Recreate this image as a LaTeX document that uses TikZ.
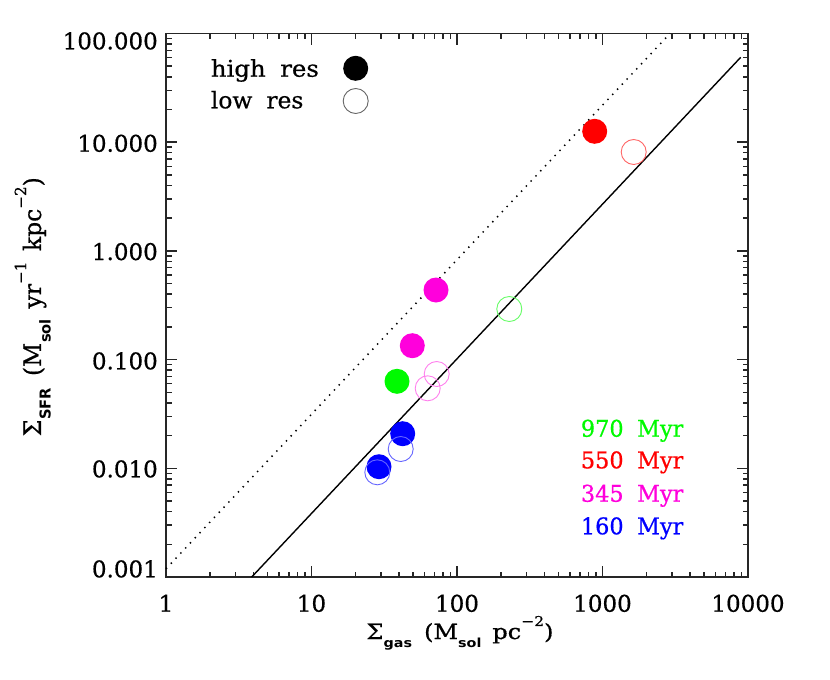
\documentclass[tikz,border=0pt]{standalone}
\usepackage{fontspec}
\usepackage{graphicx}
\setmainfont{DejaVu Serif}[FakeBold=0.6]
\setsansfont{DejaVu Sans}
\definecolor{mgn}{RGB}{255,0,220}
\definecolor{grn}{RGB}{0,250,0}
\definecolor{blu}{RGB}{0,0,255}
\definecolor{rd}{RGB}{255,0,0}
\newcommand{\sbx}[2]{\raisebox{-0.4em}{\fontsize{#1}{#1}\selectfont\sffamily\bfseries #2}}
\newcommand{\spx}[2]{\raisebox{0.62em}{\fontsize{#1}{#1}\selectfont #2}}
\newcommand{\fitw}[2]{\resizebox{#1}{\height}{#2}}
\begin{document}
\begin{tikzpicture}[x=1pt,y=-1pt,
  axisline/.style={line width=1.8pt,draw=black!85,line cap=rect},
  tickline/.style={line width=1.5pt,draw=black!85},
  ticklab/.style={font=\fontsize{23}{25}\selectfont,inner sep=0pt},
  leglab/.style={font=\fontsize{23}{25}\selectfont,inner sep=0pt,anchor=base west},
  filled/.style={circle,fill=#1,draw=none,minimum size=25pt,inner sep=0pt},
  hollow/.style={circle,draw=#1,line width=0.9pt,fill=none,minimum size=25pt,inner sep=0pt}]
\useasboundingbox (0,0) rectangle (830,680);
% axes box
\coordinate (bl) at (166,577);
\coordinate (tr) at (748,33.5);
\draw[axisline] (bl) rectangle (tr);
% x ticks
\foreach \d in {0,...,3}{
  \foreach \m in {2,...,9}{
    \pgfmathsetmacro\px{166+145.5*(\d+log10(\m))}
    \draw[tickline] (\px,577) -- ++(0,-5.5);
    \draw[tickline] (\px,33.5) -- ++(0,5.5);
  }
}
\foreach \d in {1,2,3}{
  \pgfmathsetmacro\px{166+145.5*\d}
  \draw[tickline] (\px,577) -- ++(0,-11);
  \draw[tickline] (\px,33.5) -- ++(0,11);
}
% y ticks
\foreach \d in {0,...,4}{
  \foreach \m in {2,...,9}{
    \pgfmathsetmacro\py{577-108.7*(\d+log10(\m))}
    \draw[tickline] (166,\py) -- ++(5.5,0);
    \draw[tickline] (748,\py) -- ++(-5.5,0);
  }
}
\foreach \d in {1,2,3,4}{
  \pgfmathsetmacro\py{577-108.7*\d}
  \draw[tickline] (166,\py) -- ++(11,0);
  \draw[tickline] (748,\py) -- ++(-11,0);
}
% tick labels x
\node[ticklab,anchor=base] (xl1) at (166,611.7) {1};
\node[ticklab,anchor=base] (xl2) at (311.5,611.7) {10};
\node[ticklab,anchor=base] (xl3) at (457,611.7) {100};
\node[ticklab,anchor=base] (xl4) at (602.5,611.7) {1000};
\node[ticklab,anchor=base] (xl5) at (748,611.7) {10000};
% tick labels y
\node[ticklab,anchor=base east] (yl1) at (158,49.3) {100.000};
\node[ticklab,anchor=base east] (yl2) at (158,151.7) {10.000};
\node[ticklab,anchor=base east] (yl3) at (158,260) {1.000};
\node[ticklab,anchor=base east] (yl4) at (158,369.3) {0.100};
\node[ticklab,anchor=base east] (yl5) at (158,477.3) {0.010};
\node[ticklab,anchor=base east] (yl6) at (158,577.3) {0.001};
% axis titles
\node[inner sep=0pt,anchor=base,font=\fontsize{21}{23}\selectfont] (xt) at (460,639)
  {\fitw{187pt}{Σ\sbx{12.5}{gas}\hspace{0.5em}(M\sbx{12.5}{sol}\hspace{0.45em}pc\spx{13.5}{−2})}};
\node[inner sep=0pt,anchor=base,rotate=90,font=\fontsize{24}{26}\selectfont] (yt) at (41,306.7)
  {\fitw{259pt}{Σ\sbx{15}{SFR}\hspace{0.5em}(M\sbx{15}{sol}\hspace{0.45em}yr\spx{15.5}{−1}\hspace{0.45em}kpc\spx{15.5}{−2})}};
% relations
\coordinate (s0) at (251.7,577);
\coordinate (s1) at (740.7,57.3);
\draw[line width=1.4pt] (s0) -- (s1);
\coordinate (d0) at (166,568.8);
\coordinate (d1) at (670,33.5);
\draw[line width=1.5pt,dash pattern=on 1.4pt off 5.6pt] (d0) -- (d1);
% data: high res
\node[filled=rd] (h550) at (594.7,131.3) {};
\node[filled=mgn] (h345a) at (436,290) {};
\node[filled=mgn] (h345b) at (412.3,345.7) {};
\node[filled=grn] (h970) at (397,381.3) {};
\node[filled=blu] (h160a) at (402.7,433.7) {};
\node[filled=blu] (h160b) at (379,466.7) {};
% data: low res
\node[hollow=rd!60] (l550) at (633.7,152) {};
\node[hollow=grn!60] (l970) at (509.3,309) {};
\node[hollow=mgn!50] (l345a) at (436.7,374) {};
\node[hollow=mgn!50] (l345b) at (427.7,388.3) {};
\node[hollow=blu!60] (l160a) at (400.7,449) {};
\node[hollow=blu!60] (l160b) at (377.3,472.3) {};
% legend
\node[leglab] (lh) at (210.7,76.7) {\fitw{108pt}{high\hspace{0.6em}res}};
\node[leglab] (ll) at (210.7,108.3) {\fitw{92.5pt}{low\hspace{0.6em}res}};
\node[filled=black] (lhs) at (355.7,68.3) {};
\node[hollow=black!60] (lls) at (355.7,101) {};
% ages
\node[leglab,text=grn] (a970) at (580.7,436.7) {\fitw{102.5pt}{970\hspace{0.6em}Myr}};
\node[leglab,text=rd] (a550) at (580.7,468.3) {\fitw{102.5pt}{550\hspace{0.6em}Myr}};
\node[leglab,text=mgn] (a345) at (580.7,501.7) {\fitw{102.5pt}{345\hspace{0.6em}Myr}};
\node[leglab,text=blu] (a160) at (580.7,534.3) {\fitw{102.5pt}{160\hspace{0.6em}Myr}};
\end{tikzpicture}
\end{document}
